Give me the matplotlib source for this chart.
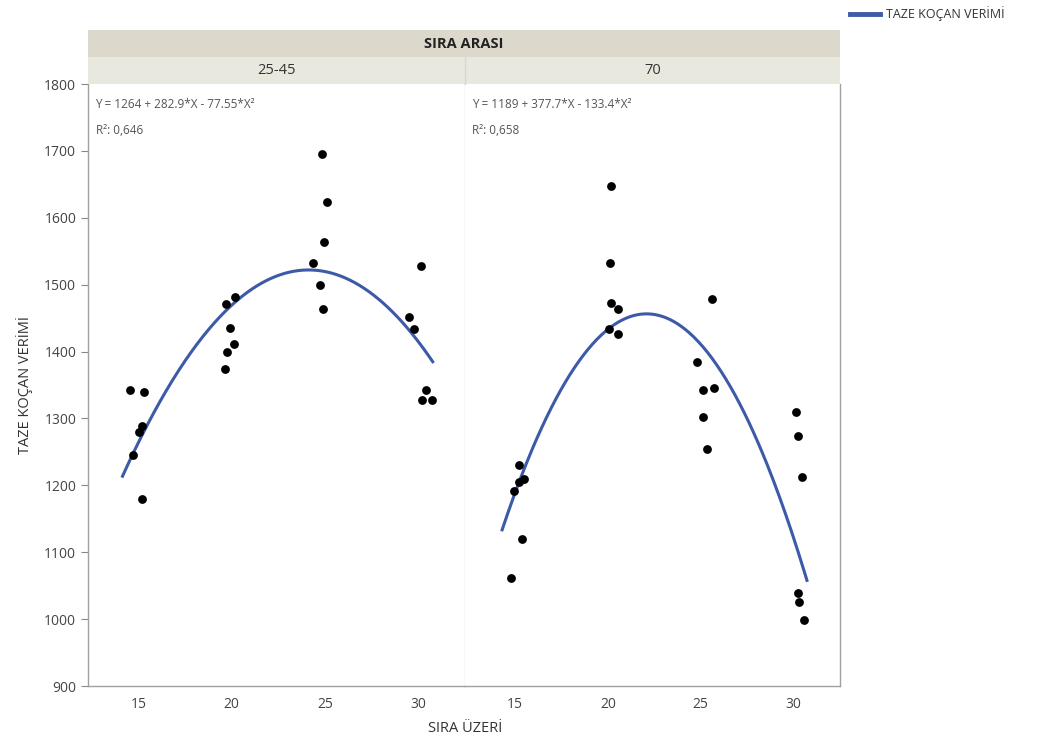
import numpy as np
import matplotlib
matplotlib.use("Agg")
import matplotlib.pyplot as plt

plt.rcParams['font.family'] = ['Open Sans', 'DejaVu Sans']

# SIRA ARASI groups
groups = ["25-45", "70"]

# SIRA ÜZERİ (slightly jittered as in the picture) and TAZE KOÇAN VERİMİ
x_2545 = [14.55, 15.29, 15.2, 15.05, 14.7, 15.18,
          19.71, 20.16, 19.9, 20.1, 19.77, 19.66,
          24.86, 25.09, 24.96, 24.37, 24.73, 24.9,
          30.14, 29.48, 29.78, 30.43, 30.2, 30.74]
y_2545 = [1343, 1339, 1288, 1279, 1246, 1180,
          1471, 1481, 1435, 1411, 1399, 1374,
          1696, 1624, 1564, 1532, 1499, 1463,
          1528, 1452, 1433, 1343, 1328, 1328]

x_70 = [15.2, 15.47, 15.2, 14.93, 15.38, 14.78,
        20.16, 20.09, 20.16, 20.52, 20.04, 20.52,
        25.63, 24.78, 25.1, 25.72, 25.14, 25.36,
        30.13, 30.22, 30.47, 30.25, 30.28, 30.57]
y_70 = [1231, 1210, 1205, 1192, 1120, 1062,
        1648, 1532, 1472, 1464, 1433, 1426,
        1479, 1384, 1342, 1346, 1302, 1254,
        1310, 1274, 1213, 1039, 1025, 999]

# quadratic fit coefficients, X = (SIRA ÜZERİ - 15) / 5
coef_2545 = [1264, 282.9, -77.55]
coef_70 = [1189, 377.7, -133.4]
r2_2545 = "0,646"
r2_70 = "0,658"
curve_span_2545 = [14.15, 30.77]
curve_span_70 = [14.3, 30.72]

xticks = [15, 20, 25, 30]
yticks = [900, 1000, 1100, 1200, 1300, 1400, 1500, 1600, 1700, 1800]

W, H = 1061, 744
fig = plt.figure(figsize=(W / 100, H / 100), dpi=100)

def box(x0, y0, x1, y1):
    return [x0 / W, (H - y1) / H, (x1 - x0) / W, (y1 - y0) / H]

line_col = "#3d5aa8"
frame_col = "#a0a0a0"

panels = [
    (groups[0], x_2545, y_2545, coef_2545, r2_2545, curve_span_2545, box(88, 84, 465, 686)),
    (groups[1], x_70, y_70, coef_70, r2_70, curve_span_70, box(465, 84, 840, 686)),
]

axes = []
for i, (name, xs, ys, coef, r2, span, pos) in enumerate(panels):
    ax = fig.add_axes(pos)
    axes.append(ax)
    ax.scatter(xs, ys, s=40, color="black", zorder=3, linewidths=0)
    xx = np.linspace(span[0], span[1], 200)
    X = (xx - 15) / 5
    yy = coef[0] + coef[1] * X + coef[2] * X ** 2
    ax.plot(xx, yy, color=line_col, lw=2.2, zorder=2)
    ax.set_xlim(12.3, 32.5)
    ax.set_ylim(900, 1800)
    ax.set_xticks(xticks)
    ax.set_yticks(yticks)
    ax.tick_params(axis="x", length=0, pad=8, labelsize=10, labelcolor="#444444")
    ax.tick_params(axis="y", length=5, width=0.8, color="#888888",
                   labelsize=10, labelcolor="#444444")
    for s in ax.spines.values():
        s.set_color(frame_col)
        s.set_linewidth(1.0)
    ax.spines["top"].set_visible(False)
    if i == 0:
        ax.spines["right"].set_color("#e0e0e0")
        ax.set_ylabel("TAZE KOÇAN VERİMİ", fontsize=10.5, color="#333333", labelpad=8)
    else:
        ax.spines["left"].set_visible(False)
        ax.tick_params(axis="y", left=False, labelleft=False)
    sign = "-" if coef[2] < 0 else "+"
    eq = f"Y = {coef[0]} + {coef[1]}*X {sign} {abs(coef[2])}*X²"
    ax.text(0.02, 0.977, eq, transform=ax.transAxes, ha="left", va="top",
            fontsize=8.5, color="#555555")
    ax.text(0.02, 0.933, f"R²: {r2}", transform=ax.transAxes, ha="left", va="top",
            fontsize=8.5, color="#555555")

    # group strip
    st = fig.add_axes(box(pos[0] * W, 57, pos[0] * W + pos[2] * W, 84))
    st.set_facecolor("#e9e8df")
    st.set_xticks([])
    st.set_yticks([])
    for s in st.spines.values():
        s.set_visible(False)
    st.text(0.5, 0.5, name, ha="center", va="center", fontsize=10.5, color="#333333")

# divider line between strips
fig.add_artist(plt.Line2D([465 / W, 465 / W], [(H - 84) / H, (H - 57) / H],
                          color="#d8d8d0", lw=1))

top = fig.add_axes(box(88, 30, 840, 57))
top.set_facecolor("#dcd9cc")
top.set_xticks([])
top.set_yticks([])
for s in top.spines.values():
    s.set_visible(False)
top.text(0.5, 0.5, "SIRA ARASI", ha="center", va="center", fontsize=10.5,
         fontweight="bold", color="#222222")

fig.text(465 / W, (H - 728) / H, "SIRA ÜZERİ", ha="center", va="center",
         fontsize=10.5, color="#333333")

# legend
fig.add_artist(plt.Line2D([850 / W, 880 / W], [(H - 14) / H, (H - 14) / H],
                          color=line_col, lw=3.5))
fig.text(886 / W, (H - 14) / H, "TAZE KOÇAN VERİMİ", ha="left", va="center",
         fontsize=9, color="#333333")

fig.savefig("out.png", dpi=100)
